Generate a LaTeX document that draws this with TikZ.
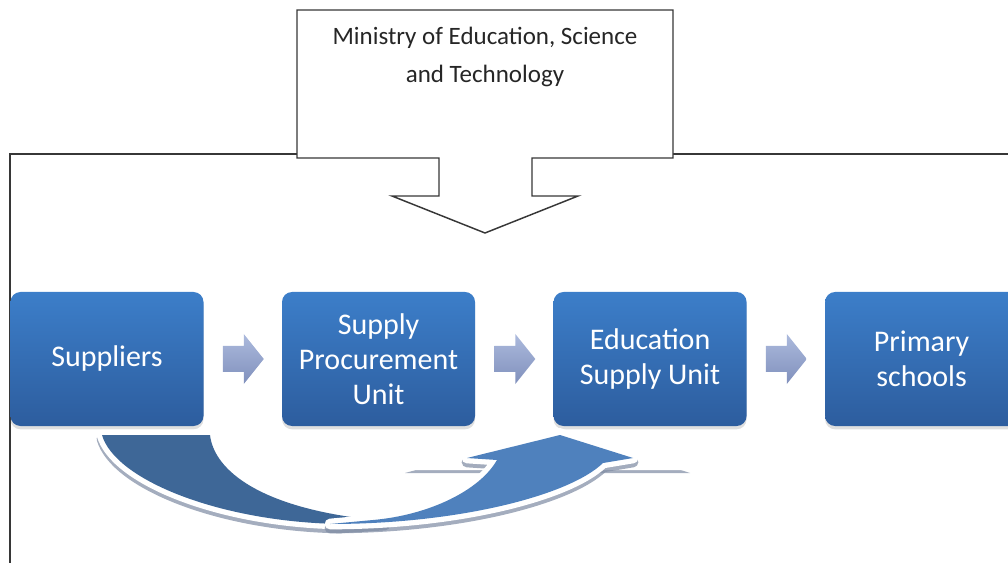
\documentclass[tikz,border=0pt]{standalone}
\usepackage{fontspec}
\setmainfont{Carlito}
\usepackage{xcolor}
\usetikzlibrary{positioning, calc, shadows}

\definecolor{boxtop}{RGB}{60,126,201}
\definecolor{boxbot}{RGB}{45,93,158}
\definecolor{chevtop}{RGB}{172,186,221}
\definecolor{chevbot}{RGB}{128,144,188}
\definecolor{banddark}{RGB}{62,103,151}
\definecolor{bandlight}{RGB}{79,129,189}
\definecolor{bandshade}{RGB}{125,138,162}
\definecolor{frameline}{RGB}{55,55,55}

\begin{document}
\begin{tikzpicture}[
    x=0.75pt, y=-0.75pt,
    unit/.style={rounded corners=7.5pt, minimum width=144.75pt, minimum height=100.5pt,
        top color=boxtop, bottom color=boxbot, text=white, align=center,
        font=\fontsize{22.5}{26.25}\selectfont,
        drop shadow={shadow xshift=0pt, shadow yshift=-2.5pt, opacity=0.25}},
    chev/.style={top color=chevtop, bottom color=chevbot},
    frame/.style={draw=frameline, line width=1.1pt},
    bandshadow/.style={fill=bandshade, draw=bandshade, line width=8pt, line join=round, opacity=0.7},
    bandedge/.style={draw=white, line width=8pt, line join=round},
    lband/.style={insert path={(102,435) -- (210,435) .. controls (214,470) and (260,510) .. (385,521)
        -- (340,524) .. controls (220,522) and (115,480) .. (102,435) -- cycle}},
    rband/.style={insert path={(330,524) .. controls (460,524) and (570,495) .. (603,463)
        -- (633,458) -- (560,435) -- (467,458) -- (497,460)
        .. controls (480,490) and (430,515) .. (373,520) -- cycle}},
    headplate/.style={insert path={(405,470) -- (560,428) -- (690,470) -- cycle}}
]
\useasboundingbox (0,0) rectangle (1008,563);

% outer frame and ministry callout
\draw[frame] (10,563) -- (10,154) -- (1008,154);
\draw[frame, fill=white] (297,10) -- (673,10) -- (673,158) -- (532,158) -- (532,196)
    -- (578,196) -- (485,233) -- (392,196) -- (439,196) -- (439,158) -- (297,158) -- cycle;
\node[align=center, text=black!85, font=\fontsize{18.75}{28.5}\selectfont] (ministry) at (485,57)
    {Ministry of Education, Science\\and Technology};

% supply chain
\node[unit] (s1) at (107,359) {Suppliers};
\node[unit, right=58.5pt of s1] (s2) {Supply\\Procurement\\Unit};
\node[unit, right=58.5pt of s2] (s3) {Education\\Supply Unit};
\node[unit, right=58.5pt of s3] (s4) {Primary\\schools};

\foreach \a/\b [count=\i] in {s1/s2, s2/s3, s3/s4}
    \path ($(\a.east)!0.5!(\b.west)$) coordinate (gap\i);
\foreach \i in {1,2,3}
    \shade[chev, shift={(gap\i)}] (-20,-13) -- (1,-13) -- (1,-25) -- (21,0)
        -- (1,25) -- (1,13) -- (-20,13) -- cycle;

% return loop under the boxes
\path[shift={(0,4)}, bandshadow, lband];
\path[bandedge, lband];
\fill[banddark, lband];
\fill[bandshade, opacity=0.7, shift={(0,3)}, headplate];
\fill[white, headplate];
\path[shift={(0,4)}, bandshadow, rband];
\path[bandedge, rband];
\fill[bandlight, rband];
\end{tikzpicture}
\end{document}
